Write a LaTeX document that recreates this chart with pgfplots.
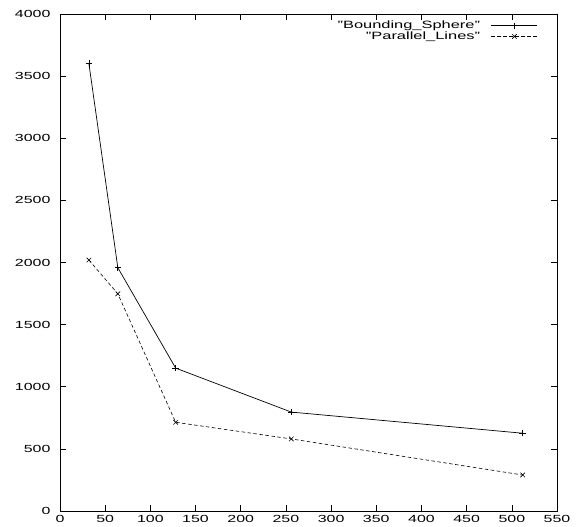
\documentclass[border=0pt]{standalone}
\usepackage{fontspec}
\setmainfont[FakeStretch=1.55]{Liberation Sans}
\usepackage{pgfplots}
\pgfplotsset{compat=1.18}

\begin{document}
\begin{tikzpicture}
\begin{axis}[
  scale only axis, width=497pt, height=497pt,
  xmin=0, xmax=550, ymin=0, ymax=4000,
  xtick={0,50,...,550}, ytick={0,500,...,4000},
  tick align=inside, major tick length=6pt,
  tick style={black, line width=0.6pt},
  axis line style={line width=0.8pt},
  /pgf/number format/assume math mode=true,
  /pgf/number format/1000 sep={},
  tick label style={font=\fontsize{10.3}{12}\selectfont},
  yticklabel style={xshift=-6pt},
  xticklabel style={yshift=-1pt},
  scaled y ticks=false,
  legend style={at={(1,1)}, anchor=north east, xshift=-18pt, yshift=-4pt,
    draw=none, fill=none, font=\fontsize{10.6}{11}\selectfont,
    row sep=-2.5pt, column sep=9pt, inner sep=1pt},
  legend cell align=right, legend plot pos=right,
  legend image code/.code={\draw[mark repeat=2,mark phase=2,#1] plot coordinates {(0pt,0pt)(23pt,0pt)(46pt,0pt)};},
]
\addplot[black, line width=0.7pt, mark=+, mark size=3.2pt, mark options={solid}]
  coordinates {(32,3600) (64,1958) (128,1150) (256,796) (512,626)};
\addlegendentry{"Bounding\_Sphere"}
\addplot[black, line width=0.6pt, dash pattern=on 3.5pt off 2.5pt, mark=x, mark size=3.2pt, mark options={solid}]
  coordinates {(32,2020) (64,1748) (128,714) (256,580) (512,290)};
\addlegendentry{"Parallel\_Lines"}
\end{axis}
\path[use as bounding box] ([xshift=-60pt,yshift=-15pt]current axis.south west) rectangle ([xshift=22pt,yshift=14pt]current axis.north east);
\end{tikzpicture}
\end{document}
